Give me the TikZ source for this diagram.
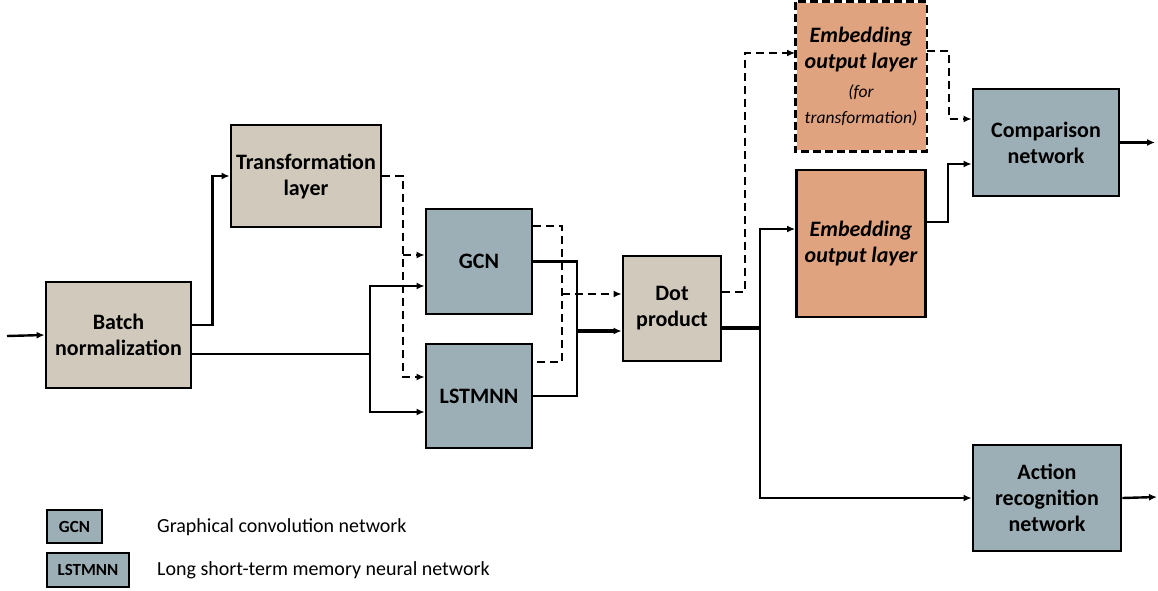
\documentclass[tikz,border=0pt]{standalone}
\usepackage{fontspec}
\setmainfont{Carlito}
\usetikzlibrary{arrows.meta}

\definecolor{beige}{RGB}{208,201,188}
\definecolor{slate}{RGB}{157,175,182}
\definecolor{salmon}{RGB}{224,163,128}
\newcommand{\smallit}[1]{{\fontsize{17.5}{21.5}\selectfont\mdseries\itshape #1}}

\begin{document}
\begin{tikzpicture}[x=1pt,y=-1pt,
  box/.style={draw=black, line width=2.8pt, inner sep=0pt, align=center, text=black, font=\fontsize{22}{26}\selectfont\bfseries},
  beigebox/.style={box, fill=beige},
  slatebox/.style={box, fill=slate},
  salmonbox/.style={box, fill=salmon, font=\fontsize{22}{26}\selectfont\bfseries\itshape},
  keybox/.style={slatebox, font=\fontsize{17}{20}\selectfont\bfseries},
  keytext/.style={anchor=west, inner sep=0pt, font=\fontsize{20}{24}\selectfont},
  line/.style={black, line width=2.4pt},
  arr/.style={line, -{Latex[length=8pt,width=7pt]}},
  dline/.style={line, dash pattern=on 8pt off 5pt},
  darr/.style={dline, -{Latex[length=8pt,width=7pt]}},
  tline/.style={black, line width=3.6pt},
  tarr/.style={tline, -{Latex[length=8pt,width=7pt]}}]
\useasboundingbox (0,0) rectangle (1158,591);

%boxes
\node[beigebox, minimum width=145pt, minimum height=106pt] (bn) at (118.5,335) {Batch\\normalization};
\node[beigebox, minimum width=150pt, minimum height=102pt] (tl) at (306,176) {Transformation\\layer};
\node[slatebox, minimum width=106pt, minimum height=105pt] (gcn) at (479,261.5) {GCN};
\node[slatebox, minimum width=106pt, minimum height=104pt] (lstm) at (479,396) {LSTMNN};
\node[beigebox, minimum width=98pt, minimum height=105pt] (dot) at (672,308.5) {Dot\\product};
\node[salmonbox, minimum width=129pt, minimum height=147pt, draw=none] (embt) at (861,76.5) {Embedding\\output layer\\[3pt]\smallit{(for}\\\smallit{transformation)}};
\draw[line width=2.8pt, dash pattern=on 8pt off 4pt] (embt.north west) rectangle (embt.south east);
\node[salmonbox, minimum width=129pt, minimum height=147pt] (emb) at (861,243.5) {Embedding\\output layer};
\node[slatebox, minimum width=146pt, minimum height=107pt] (cn) at (1046,142.5) {Comparison\\network};
\node[slatebox, minimum width=148pt, minimum height=106pt] (arn) at (1047,498) {Action\\recognition\\network};

%legend
\node[keybox, minimum width=55pt, minimum height=33pt] (lgcn) at (74.5,526.5) {GCN};
\node[keybox, minimum width=82pt, minimum height=34pt] (llstm) at (88,570) {LSTMNN};
\node[keytext] (lgcntxt) at (157,527) {Graphical convolution network};
\node[keytext] (llstmtxt) at (157,570) {Long short-term memory neural network};

%anchors
\coordinate (in) at (7,336);
\coordinate (split) at (370,354);
\coordinate (td) at (403,176);
\coordinate (jn) at (577,331);
\coordinate (jd) at (562,294);
\coordinate (dd) at (745,53);
\coordinate (ds) at (760,328);
\coordinate (cnout) at (1155,142.5);
\coordinate (arout) at (1157,497);

%connectors
\draw[arr] (in) -- (bn.west);
\draw[arr] ([yshift=10pt]bn.east) -- ++(20,0) |- (tl.west);
\draw[line] ([yshift=-19pt]bn.east) -- (split);
\draw[arr] (split) |- ([yshift=-24.5pt]gcn.west);
\draw[arr] (split) |- ([yshift=-16pt]lstm.west);
\draw[darr] (tl.east) -- (td) |- ([yshift=19pt]lstm.west);
\draw[darr] ([yshift=6.5pt]td |- gcn.west) -- ([yshift=6.5pt]gcn.west);

\draw[line] (gcn.east) -| (jn) |- (lstm.east);
\draw[tarr] (jn) -- (jn -| dot.west);
\draw[dline] ([yshift=35.5pt]gcn.east) -| (jd) |- ([yshift=34pt]lstm.east);
\draw[darr] (jd) -- (jd -| dot.west);

\draw[darr] ([yshift=16.5pt]dot.east) -| (dd) -- (dd -| embt.west);
\draw[tline] ([yshift=-19.5pt]dot.east) -- (ds);
\draw[arr] (ds) |- ([yshift=14.5pt]emb.west);
\draw[arr] (ds) |- (arn.west);

\draw[darr] ([yshift=25.5pt]embt.east) -- ++(22,0) |- ([yshift=23.5pt]cn.west);
\draw[arr] ([yshift=21.5pt]emb.east) -- ++(21,0) |- ([yshift=-21.5pt]cn.west);
\draw[arr] (cn.east) -- (cnout);
\draw[arr] (arn.east) -- (arout);

\end{tikzpicture}
\end{document}
